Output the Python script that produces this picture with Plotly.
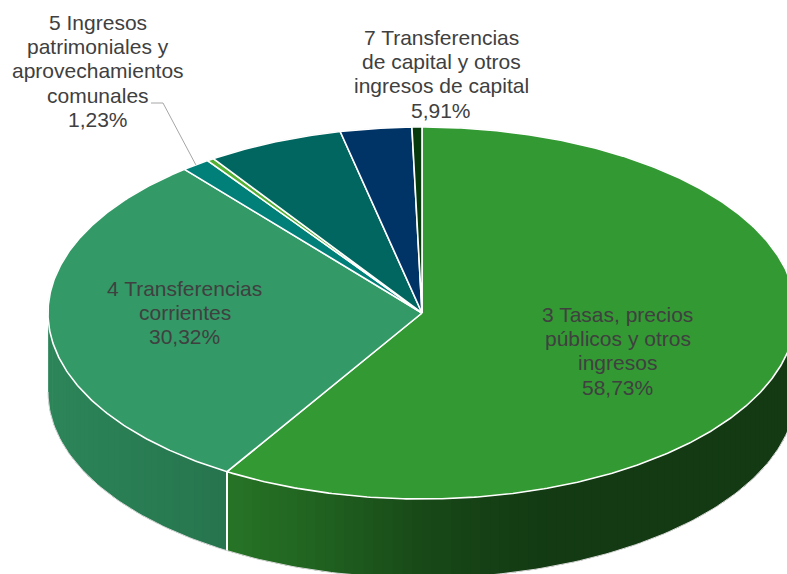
import numpy as np
import plotly.graph_objects as go

# Ingresos por capítulos (% sobre el total)
capitulos = [
    "3 Tasas, precios públicos y otros ingresos",
    "4 Transferencias corrientes",
    "5 Ingresos patrimoniales y aprovechamientos comunales",
    "6 Enajenación de inversiones reales",
    "7 Transferencias de capital y otros ingresos de capital",
    "8 Activos financieros",
    "9 Pasivos financieros",
]
porcentajes = [58.73, 30.32, 1.23, 0.30, 5.91, 3.08, 0.43]
etiquetas = [
    ["3 Tasas, precios", "públicos y otros", "ingresos"],
    ["4 Transferencias", "corrientes"],
    ["5 Ingresos", "patrimoniales y", "aprovechamientos", "comunales"],
    None,
    ["7 Transferencias", "de capital y otros", "ingresos de capital"],
    None,
    None,
]

# ---- estilo ----
colores = ["#339933", "#339966", "#008079", "#53b033", "#026660", "#003366", "#063a0c"]
CX, CY = 422.0, 313.0      # centro de la cara superior (px)
RX, RY = 374.0, 186.0      # semiejes de la elipse
DEPTH = 79.0               # grosor del disco
W, H = 787, 574
FONT = dict(family="Liberation Sans, Arial, sans-serif", size=21, color="#404040")
LINE_GAP = 24.2
# posición (centro de la primera línea) de cada etiqueta
LABEL_POS = {0: (617.5, 314.5), 1: (184.5, 288.5), 2: (97.5, 22.5), 4: (441.0, 37.5)}
# codo de la línea guía de la etiqueta 5
LEADER = {2: [(151.0, 103.0), (163.0, 103.0)]}


def pt(theta_deg, dy=0.0):
    t = np.radians(theta_deg)
    return CX + RX * np.sin(t), CY - RY * np.cos(t) + dy


def hex_rgb(h):
    h = h.lstrip("#")
    return tuple(int(h[i:i + 2], 16) for i in (0, 2, 4))


def shade(hexcol, x):
    # sombreado lateral: más claro a la izquierda, oscuro a la derecha
    xs = [40, 229, 330, 420, 500, 560, 800]
    fs = [0.88, 0.76, 0.62, 0.48, 0.41, 0.38, 0.38]
    f = np.interp(x, xs, fs)
    r, g, b = hex_rgb(hexcol)
    return "rgb(%d,%d,%d)" % (r * f, g * f, b * f)


fig = go.Figure()

total = sum(porcentajes)
bounds = np.concatenate([[0], np.cumsum(porcentajes) / total * 360.0])

# ---- paredes laterales (mitad frontal: 90°..270°) ----
STEP = 1.5
for i, col in enumerate(colores):
    a0, a1 = max(bounds[i], 90.0), min(bounds[i + 1], 270.0)
    if a1 <= a0:
        continue
    edges = np.arange(a0, a1, STEP).tolist() + [a1]
    for k in range(len(edges) - 1):
        s0 = edges[k]
        s1 = min(edges[k + 1] + 0.6, a1)
        th = np.linspace(s0, s1, 6)
        xt, yt = pt(th)
        xb, yb = pt(th[::-1], DEPTH)
        xs = np.concatenate([xt, xb, xt[:1]])
        ys = np.concatenate([yt, yb, yt[:1]])
        xm = pt((s0 + s1) / 2)[0]
        fig.add_trace(go.Scatter(x=xs, y=ys, mode="lines", fill="toself",
                                 fillcolor=shade(col, xm), line=dict(width=0),
                                 hoverinfo="skip", showlegend=False))
    # separación blanca en el borde frontal entre sectores
    for e in (bounds[i], bounds[i + 1]):
        if 90.0 < e < 270.0:
            x0, y0 = pt(e)
            fig.add_trace(go.Scatter(x=[x0, x0], y=[y0, y0 + DEPTH], mode="lines",
                                     line=dict(color="white", width=2),
                                     hoverinfo="skip", showlegend=False))

# contorno exterior tenue
th_b = np.linspace(90, 270, 200)
xb, yb = pt(th_b, DEPTH)
th_t = np.linspace(270, 450, 300)
xt, yt = pt(th_t)
fig.add_trace(go.Scatter(x=np.concatenate([xt, xb]), y=np.concatenate([yt, yb]),
                         mode="lines", line=dict(color="#d9d9d9", width=1),
                         hoverinfo="skip", showlegend=False))

# ---- cara superior ----
for i, col in enumerate(colores):
    n = max(int((bounds[i + 1] - bounds[i]) / 0.5) + 2, 3)
    th = np.linspace(bounds[i], bounds[i + 1], n)
    xa, ya = pt(th)
    xs = np.concatenate([[CX], xa, [CX]])
    ys = np.concatenate([[CY], ya, [CY]])
    fig.add_trace(go.Scatter(x=xs, y=ys, mode="lines", fill="toself",
                             fillcolor=col, line=dict(color="white", width=1.6),
                             name=capitulos[i],
                             text=f"{capitulos[i]}: {porcentajes[i]:.2f}%".replace(".", ","),
                             hoverinfo="text", showlegend=False))

# ---- etiquetas ----
annotations = []
for i, lines in enumerate(etiquetas):
    if not lines:
        continue
    x0, y0 = LABEL_POS[i]
    full = lines + [f"{porcentajes[i]:.2f}".replace(".", ",") + "%"]
    for j, txt in enumerate(full):
        annotations.append(dict(x=x0, y=y0 + j * LINE_GAP, xref="x", yref="y",
                                text=txt, showarrow=False, font=FONT,
                                xanchor="center", yanchor="middle"))
    if i in LEADER:
        mid = (bounds[i] + bounds[i + 1]) / 2
        ex, ey = pt(mid)
        lx = [p[0] for p in LEADER[i]] + [ex]
        ly = [p[1] for p in LEADER[i]] + [ey]
        fig.add_trace(go.Scatter(x=lx, y=ly, mode="lines",
                                 line=dict(color="#a6a6a6", width=1),
                                 hoverinfo="skip", showlegend=False))

fig.update_layout(
    width=W, height=H, autosize=False,
    margin=dict(l=0, r=0, t=0, b=0),
    paper_bgcolor="white", plot_bgcolor="white",
    xaxis=dict(range=[0, W], visible=False, fixedrange=True),
    yaxis=dict(range=[H, 0], visible=False, fixedrange=True),
    annotations=annotations,
    showlegend=False,
)

fig.write_html("out.html")
